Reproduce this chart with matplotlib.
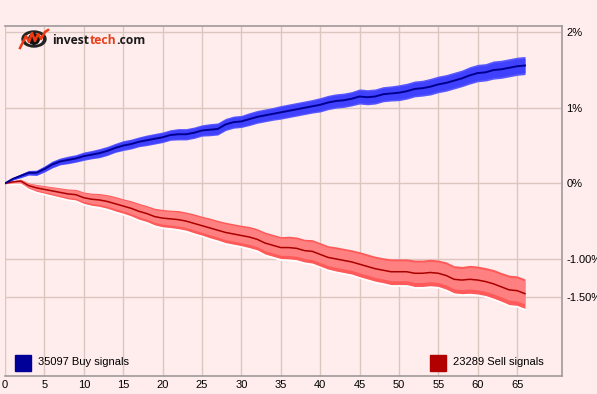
import numpy as np
import matplotlib.pyplot as plt
from matplotlib.patches import Rectangle, Ellipse

# ---- data ----
days = list(range(0, 67))

buy_mean = [0.00, 0.06, 0.10, 0.14, 0.14, 0.19, 0.25, 0.29, 0.31, 0.33,
            0.36, 0.38, 0.40, 0.43, 0.47, 0.50, 0.52, 0.55, 0.57, 0.59,
            0.61, 0.64, 0.65, 0.65, 0.67, 0.70, 0.71, 0.72, 0.78, 0.81,
            0.82, 0.85, 0.88, 0.90, 0.92, 0.94, 0.96, 0.98, 1.00, 1.02,
            1.04, 1.07, 1.09, 1.10, 1.12, 1.15, 1.14, 1.15, 1.18, 1.19,
            1.20, 1.22, 1.25, 1.26, 1.28, 1.31, 1.33, 1.36, 1.39, 1.43,
            1.46, 1.47, 1.50, 1.51, 1.53, 1.55, 1.56]

buy_spread = [0.00, 0.015, 0.025, 0.03, 0.035, 0.04, 0.045, 0.045, 0.05, 0.05,
              0.055, 0.055, 0.06, 0.06, 0.06, 0.065, 0.065, 0.065, 0.07, 0.07,
              0.07, 0.07, 0.075, 0.075, 0.075, 0.075, 0.08, 0.08, 0.08, 0.08,
              0.08, 0.085, 0.085, 0.085, 0.085, 0.09, 0.09, 0.09, 0.09, 0.09,
              0.095, 0.095, 0.095, 0.095, 0.095, 0.10, 0.10, 0.10, 0.10, 0.10,
              0.105, 0.105, 0.105, 0.105, 0.11, 0.11, 0.11, 0.11, 0.11, 0.115,
              0.115, 0.115, 0.12, 0.12, 0.12, 0.12, 0.12]

sell_mean = [0.00, 0.02, 0.03, -0.03, -0.06, -0.08, -0.10, -0.12, -0.14, -0.15,
             -0.19, -0.21, -0.22, -0.24, -0.27, -0.30, -0.33, -0.37, -0.40, -0.44,
             -0.46, -0.47, -0.48, -0.50, -0.53, -0.56, -0.59, -0.62, -0.65, -0.67,
             -0.69, -0.71, -0.74, -0.79, -0.82, -0.85, -0.85, -0.86, -0.89, -0.90,
             -0.94, -0.98, -1.00, -1.02, -1.04, -1.07, -1.10, -1.13, -1.15, -1.17,
             -1.17, -1.17, -1.19, -1.19, -1.18, -1.19, -1.22, -1.27, -1.28, -1.27,
             -1.28, -1.30, -1.33, -1.37, -1.41, -1.42, -1.46]

sell_spread = [0.00, 0.015, 0.025, 0.035, 0.045, 0.05, 0.055, 0.06, 0.065, 0.07,
               0.075, 0.08, 0.085, 0.09, 0.095, 0.095, 0.10, 0.105, 0.105, 0.11,
               0.115, 0.115, 0.12, 0.12, 0.125, 0.125, 0.13, 0.13, 0.135, 0.135,
               0.135, 0.14, 0.14, 0.145, 0.145, 0.145, 0.15, 0.15, 0.15, 0.155,
               0.155, 0.155, 0.16, 0.16, 0.16, 0.165, 0.165, 0.165, 0.165, 0.17,
               0.17, 0.17, 0.175, 0.175, 0.175, 0.175, 0.18, 0.18, 0.18, 0.185,
               0.185, 0.185, 0.19, 0.19, 0.195, 0.195, 0.195]

x_ticks = list(range(0, 70, 5))
y_ticks = [2, 1, 0, -1, -1.5]
y_labels = ["2%", "1%", "0%", "-1.00%", "-1.50%"]

buy_label = "35097 Buy signals"
sell_label = "23289 Sell signals"

# ---- figure ----
W, H = 597, 394
bg = "#ffecec"
grid_col = "#dcc6c0"
spine_col = "#a09a9a"


def fx(px):
    return px / W


def fy(py):
    return 1 - py / H


fig = plt.figure(figsize=(W / 100, H / 100), dpi=100, facecolor=bg)
ax = fig.add_axes([fx(5), fy(376), fx(562) - fx(5), fy(26) - fy(376)])
ax.set_facecolor(bg)

d = np.array(days)
bm, bs = np.array(buy_mean), np.array(buy_spread)
sm, ss = np.array(sell_mean), np.array(sell_spread)

# bands (white shadow under the sell band, then two shades each)
ax.fill_between(d, sm - ss - 0.025, sm + ss - 0.025, color="white", lw=0, zorder=2)
ax.fill_between(d, sm - ss, sm + ss, color="#ff5a5a", lw=0, zorder=3)
ax.fill_between(d, sm - ss * 0.7, sm + ss * 0.85, color="#ff8080", lw=0, zorder=3)
ax.fill_between(d, bm - bs, bm + bs, color="#5858ff", lw=0, zorder=4)
ax.fill_between(d, bm - bs * 0.8, bm + bs * 0.8, color="#4040ff", lw=0, zorder=4)

# mean lines
ax.plot(d, sm, color="#aa0000", lw=1.1, zorder=5)
ax.plot(d, bm, color="#000090", lw=1.4, zorder=6)

ax.set_xlim(0, 70.7)
ax.set_ylim(-2.55, 2.083)

ax.set_xticks(x_ticks)
ax.set_xticklabels([str(t) for t in x_ticks])
ax.set_yticks(y_ticks)
ax.set_yticklabels(y_labels)
ax.yaxis.tick_right()
ax.tick_params(axis="both", length=0, labelsize=8, colors="black")
ax.tick_params(axis="x", pad=3)
ax.tick_params(axis="y", pad=3)
for lab in ax.get_xticklabels() + ax.get_yticklabels():
    lab.set_fontfamily("Liberation Sans")

ax.grid(True, color=grid_col, lw=1)
ax.set_axisbelow(True)

for side in ["top", "right", "bottom"]:
    ax.spines[side].set_color(spine_col)
    ax.spines[side].set_linewidth(1.2)
ax.spines["left"].set_visible(False)

# legend boxes
fig.patches.append(Rectangle((fx(15), fy(370.5)), fx(15.5), fy(355) - fy(370.5),
                             transform=fig.transFigure, color="#000099", zorder=10))
fig.text(fx(38), fy(362), buy_label, fontsize=8, family="Liberation Sans",
         va="center", ha="left")
fig.patches.append(Rectangle((fx(430), fy(370.5)), fx(15.5), fy(355) - fy(370.5),
                             transform=fig.transFigure, color="#b20000", zorder=10))
fig.text(fx(453), fy(362), sell_label, fontsize=8, family="Liberation Sans",
         va="center", ha="left")

# logo
fig.patches.append(Ellipse((fx(34), fy(39)), fx(24), fy(31) - fy(47),
                           transform=fig.transFigure, facecolor="#222222",
                           edgecolor="#222222", zorder=10))
fig.patches.append(Ellipse((fx(34), fy(39)), fx(18), fy(33) - fy(45),
                           transform=fig.transFigure, facecolor=bg,
                           edgecolor="none", zorder=10))
fig.patches.append(Ellipse((fx(34), fy(39)), fx(12), fy(33) - fy(45),
                           transform=fig.transFigure, facecolor="#111111",
                           edgecolor="none", zorder=10))
zz_x = [20, 26, 29, 32, 35, 38, 41, 45, 48]
zz_y = [48, 36, 42, 33, 41, 34, 39, 32, 30]
fig.lines.append(plt.Line2D([fx(v) for v in zz_x], [fy(v) for v in zz_y],
                            transform=fig.transFigure, color="#ee3a10", lw=1.8,
                            zorder=11))
fig.text(fx(52), fy(41), "invest", fontsize=8.7, family="Open Sans", weight="bold",
         color="#1a1a1a", va="center", ha="left")
fig.text(fx(89.5), fy(41), "tech", fontsize=8.7, family="Open Sans", weight="bold",
         color="#e8401c", va="center", ha="left")
fig.text(fx(116.5), fy(41), ".com", fontsize=8.7, family="Open Sans", weight="bold",
         color="#1a1a1a", va="center", ha="left")

fig.savefig("out.png", dpi=100, facecolor=bg)
